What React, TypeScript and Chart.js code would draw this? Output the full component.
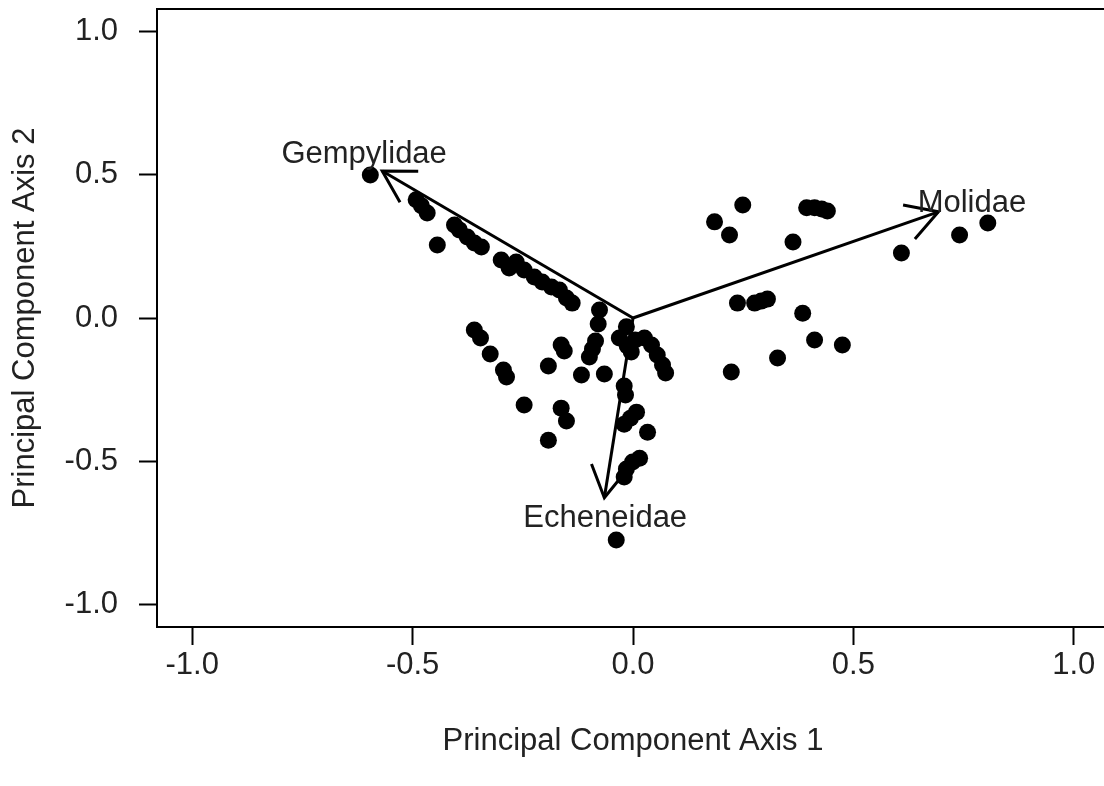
import React, { useEffect, useRef } from "react";
import { Chart, registerables } from "chart.js";

Chart.register(...registerables);

// Scores (points)
const pc1: number[] = [
  -0.596, -0.492, -0.48, -0.467, -0.444, -0.405, -0.394, -0.376, -0.36, -0.344,
  -0.299, -0.281, -0.265, -0.247, -0.224, -0.206, -0.185, -0.167, -0.151, -0.138,
  -0.076, -0.079, -0.015, -0.36, -0.346, -0.324, -0.294, -0.287, -0.247, -0.192,
  -0.192, -0.163, -0.156, -0.163, -0.151, -0.117, -0.085, -0.092, -0.099, -0.065,
  -0.02, -0.017, 0.008, -0.006, -0.02, 0.033, 0.015, -0.001, -0.015, -0.02,
  -0.038, -0.031, -0.013, 0.005, 0.026, 0.042, 0.055, 0.067, 0.074, -0.004,
  0.249, 0.185, 0.219, 0.363, 0.394, 0.412, 0.428, 0.441, 0.609, 0.741,
  0.805, 0.237, 0.276, 0.291, 0.305, 0.385, 0.412, 0.475, 0.328, 0.223,
];
const pc2: number[] = [
  0.5, 0.413, 0.392, 0.367, 0.255, 0.325, 0.308, 0.283, 0.262, 0.248,
  0.203, 0.175, 0.196, 0.168, 0.143, 0.126, 0.108, 0.098, 0.07, 0.052,
  0.028, -0.021, -0.031, -0.042, -0.07, -0.126, -0.182, -0.206, -0.304, -0.427,
  -0.168, -0.094, -0.115, -0.315, -0.36, -0.199, -0.08, -0.108, -0.136, -0.196,
  -0.238, -0.269, -0.329, -0.35, -0.371, -0.399, -0.49, -0.503, -0.528, -0.556,
  -0.776, -0.07, -0.098, -0.077, -0.07, -0.094, -0.129, -0.164, -0.192, -0.119,
  0.395, 0.336, 0.29, 0.266, 0.385, 0.385, 0.381, 0.374, 0.227, 0.29,
  0.332, 0.052, 0.052, 0.059, 0.066, 0.017, -0.077, -0.094, -0.14, -0.189,
];

// Loadings (arrows)
const loadingNames: string[] = ["Gempylidae", "Molidae", "Echeneidae"];
const loadingX: number[] = [-0.569, 0.693, -0.065];
const loadingY: number[] = [0.514, 0.371, -0.628];
const labelX: number[] = [-0.61, 0.769, -0.063];
const labelY: number[] = [0.573, 0.399, -0.699];

// Axes
const xTickValues: number[] = [-1, -0.5, 0, 0.5, 1];
const yTickValues: number[] = [-1, -0.5, 0, 0.5, 1];
const axisMin = -1.08;
const axisMax = 1.08;
const xTitle = "Principal Component Axis 1";
const yTitle = "Principal Component Axis 2";

const FONT = "'Liberation Sans', Arial, sans-serif";
const FONT_SIZE = 31;
const TEXT_COLOR = "#222";

const biplotPlugin = {
  id: "biplot",
  afterDatasetsDraw(chart: any) {
    const { ctx, chartArea, scales } = chart;
    const xs = scales.x;
    const ys = scales.y;
    ctx.save();
    // plot box
    ctx.strokeStyle = "#000";
    ctx.lineWidth = 2;
    ctx.strokeRect(chartArea.left, chartArea.top, chartArea.right - chartArea.left, chartArea.bottom - chartArea.top);

    // arrows
    const x0 = xs.getPixelForValue(0);
    const y0 = ys.getPixelForValue(0);
    ctx.lineWidth = 3;
    ctx.lineCap = "butt";
    ctx.lineJoin = "miter";
    loadingX.forEach((lx, i) => {
      const tx = xs.getPixelForValue(lx);
      const ty = ys.getPixelForValue(loadingY[i]);
      const ang = Math.atan2(ty - y0, tx - x0);
      const L = 36;
      const a = Math.PI / 6;
      ctx.beginPath();
      ctx.moveTo(x0, y0);
      ctx.lineTo(tx, ty);
      ctx.stroke();
      ctx.beginPath();
      ctx.moveTo(tx - L * Math.cos(ang - a), ty - L * Math.sin(ang - a));
      ctx.lineTo(tx, ty);
      ctx.lineTo(tx - L * Math.cos(ang + a), ty - L * Math.sin(ang + a));
      ctx.stroke();
    });

    // labels
    ctx.fillStyle = TEXT_COLOR;
    ctx.font = `${FONT_SIZE}px ${FONT}`;
    ctx.textAlign = "center";
    ctx.textBaseline = "middle";
    loadingNames.forEach((name, i) => {
      ctx.fillText(name, xs.getPixelForValue(labelX[i]), ys.getPixelForValue(labelY[i]));
    });
    ctx.restore();
  },
};

export default function App() {
  const canvasRef = useRef<HTMLCanvasElement | null>(null);

  useEffect(() => {
    const canvas = canvasRef.current;
    if (!canvas) return;
    const points = pc1.map((v, i) => ({ x: v, y: pc2[i] }));
    const chart = new Chart(canvas, {
      type: "scatter",
      data: {
        datasets: [
          {
            data: points,
            backgroundColor: "#000",
            borderWidth: 0,
            pointRadius: 8.5,
            pointHoverRadius: 8.5,
          },
        ],
      },
      options: {
        animation: false,
        responsive: false,
        devicePixelRatio: 1,
        layout: { autoPadding: false, padding: { top: 9, right: 0, left: 0, bottom: 0 } },
        plugins: {
          legend: { display: false },
          tooltip: { enabled: false },
        },
        scales: {
          x: {
            type: "linear",
            min: axisMin,
            max: axisMax,
            afterBuildTicks: (scale: any) => {
              scale.ticks = xTickValues.map((v) => ({ value: v }));
            },
            afterFit: (scale: any) => {
              scale.height = 159;
              scale.paddingLeft = 0;
              scale.paddingRight = 0;
              scale.paddingTop = 0;
              scale.paddingBottom = 0;
            },
            ticks: {
              autoSkip: false,
              maxRotation: 0,
              padding: 2,
              color: TEXT_COLOR,
              font: { family: FONT, size: FONT_SIZE },
              callback: (v: any) => Number(v).toFixed(1),
            },
            grid: {
              display: true,
              drawOnChartArea: false,
              drawTicks: true,
              tickLength: 18,
              tickWidth: 2,
              tickColor: "#000",
              color: "#000",
            },
            border: { display: true, color: "#000", width: 2 },
            title: {
              display: true,
              text: xTitle,
              color: TEXT_COLOR,
              font: { family: FONT, size: FONT_SIZE },
              padding: { top: 0, bottom: 26 },
            },
          },
          y: {
            type: "linear",
            min: axisMin,
            max: axisMax,
            afterBuildTicks: (scale: any) => {
              scale.ticks = yTickValues.map((v) => ({ value: v }));
            },
            afterFit: (scale: any) => {
              scale.width = 157;
              scale.paddingLeft = 0;
              scale.paddingRight = 0;
              scale.paddingTop = 0;
              scale.paddingBottom = 0;
            },
            ticks: {
              autoSkip: false,
              padding: 21,
              color: TEXT_COLOR,
              font: { family: FONT, size: FONT_SIZE },
              callback: (v: any) => Number(v).toFixed(1),
            },
            grid: {
              display: true,
              drawOnChartArea: false,
              drawTicks: true,
              tickLength: 18,
              tickWidth: 2,
              tickColor: "#000",
              color: "#000",
            },
            border: { display: true, color: "#000", width: 2 },
            title: {
              display: true,
              text: yTitle,
              color: TEXT_COLOR,
              font: { family: FONT, size: FONT_SIZE },
              padding: { top: 7, bottom: 0 },
            },
          },
        },
      },
      plugins: [biplotPlugin],
    });
    return () => chart.destroy();
  }, []);

  return (
    <div
      style={{
        position: "fixed",
        left: 0,
        top: 0,
        width: 1104,
        height: 786,
        overflow: "hidden",
        background: "#fff",
      }}
    >
      <canvas ref={canvasRef} width={1109} height={786} style={{ display: "block" }} />
    </div>
  );
}
